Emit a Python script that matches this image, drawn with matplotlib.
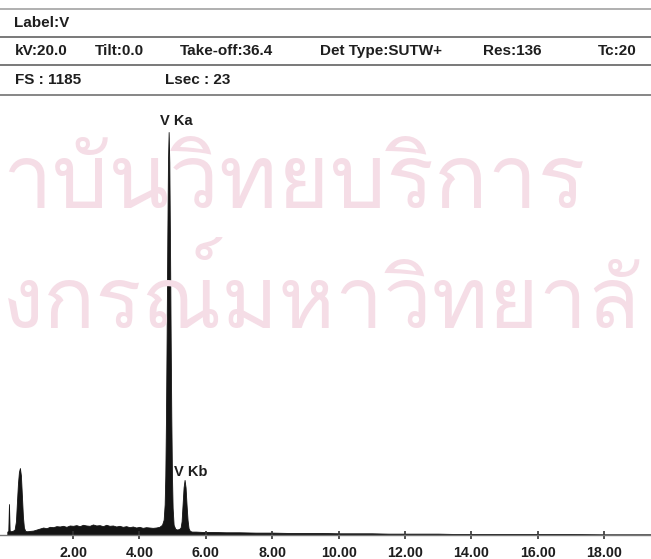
import numpy as np
import matplotlib.pyplot as plt
from matplotlib import font_manager

# --------------------------------------------------
# Data (energy in keV, counts)
# --------------------------------------------------

energy = [
    0.02, 0.05, 0.07, 0.09, 0.12, 0.18, 0.24, 0.28, 0.31, 0.34, 0.37, 0.40,
    0.43, 0.46, 0.49, 0.52, 0.56, 0.62, 0.70, 0.80, 0.90, 1.00, 1.10, 1.20,
    1.30, 1.40, 1.50, 1.60, 1.70, 1.80, 1.90, 2.00, 2.10, 2.20, 2.30, 2.40,
    2.50, 2.60, 2.70, 2.80, 2.90, 3.00, 3.10, 3.20, 3.30, 3.40, 3.50, 3.60,
    3.70, 3.80, 3.90, 4.00, 4.10, 4.20, 4.30, 4.40, 4.50, 4.60, 4.68, 4.73,
    4.76, 4.78, 4.80, 4.82, 4.84, 4.86, 4.88, 4.90, 4.92, 4.94, 4.96, 4.98,
    5.00, 5.03, 5.08, 5.14, 5.20, 5.24, 5.27, 5.30, 5.33, 5.36, 5.39, 5.42,
    5.45, 5.48, 5.52, 5.58, 5.70, 5.90, 6.20, 6.60, 7.00, 7.50, 8.00, 8.50,
    9.00, 9.50, 10.0, 10.5, 11.0, 11.5, 12.0, 12.5, 13.0, 13.5, 14.0, 15.0,
    16.0, 17.0, 18.0, 19.0, 19.4,
]
counts = [
    10, 12, 91, 14, 11, 12, 16, 40, 96, 150, 185, 197,
    175, 115, 55, 22, 12, 11, 12, 13, 16, 19, 22, 20,
    24, 23, 26, 25, 27, 24, 28, 27, 29, 26, 30, 28,
    27, 31, 28, 29, 26, 30, 27, 28, 25, 27, 24, 26,
    23, 25, 22, 24, 21, 23, 22, 21, 22, 24, 30, 45,
    90, 175, 346, 592, 870, 1097, 1185, 1097, 870, 592, 346, 175,
    80, 30, 18, 16, 18, 22, 40, 90, 140, 162, 140, 88,
    44, 20, 12, 10, 10, 9, 9, 8, 8, 7, 7, 6,
    6, 6, 5, 5, 5, 4, 4, 4, 4, 3, 3, 3,
    3, 3, 2, 2, 2,
]

tick_values = [2, 4, 6, 8, 10, 12, 14, 16, 18]
tick_labels = [f"{v:.2f}" for v in tick_values]

header_row1 = ["Label:V"]
header_row2 = ["kV:20.0", "Tilt:0.0", "Take-off:36.4", "Det Type:SUTW+", "Res:136", "Tc:20"]
header_row3 = ["FS : 1185", "Lsec : 23"]

peak_labels = ["V Ka", "V Kb"]
peak_label_pos = [(5.10, 1217), (5.55, 185)]

watermark_lines = ["าบันวิทยบริการ", "งกรณ์มหาวิทยาลั"]

# --------------------------------------------------
# Figure
# --------------------------------------------------

W, H = 651, 559
fig = plt.figure(figsize=(W / 100, H / 100), dpi=100)
fig.patch.set_facecolor("white")

# thai watermark, only if a thai font is around
thai_font = None
for f in font_manager.fontManager.ttflist:
    if "Thai" in f.name or "Loma" in f.name or "Garuda" in f.name:
        thai_font = f.name
        break
if thai_font:
    fig.text(0.003, 1 - 185 / H, watermark_lines[0], fontsize=64,
             family=thai_font, color="#f5dde6", va="center", ha="left", zorder=0)
    fig.text(0.003, 1 - 300 / H, watermark_lines[1], fontsize=62,
             family=thai_font, color="#f5dde6", va="center", ha="left", zorder=0)

# header lines
for y, c in [(9, "#9a9a9a"), (37, "#555555"), (65, "#555555"), (95, "#666666")]:
    fig.add_artist(plt.Line2D([0, 1], [1 - y / H] * 2, color=c, lw=1.1,
                              transform=fig.transFigure))

hfont = dict(family="Liberation Sans", fontsize=11, fontweight="bold",
             color="#1e1e1e", va="center", ha="left")
fig.text(14 / W, 1 - 23 / H, header_row1[0], **hfont)
for x, s in zip([15, 95, 180, 320, 483, 598], header_row2):
    fig.text(x / W, 1 - 51 / H, s, **hfont)
for x, s in zip([15, 165], header_row3):
    fig.text(x / W, 1 - 80 / H, s, **hfont)

# --------------------------------------------------
# Spectrum
# --------------------------------------------------

base_y = 535
top_y = 115
ax = fig.add_axes([0, 1 - base_y / H, 1, (base_y - top_y) / H])
ax.set_facecolor("none")
ax.fill_between(energy, counts, 0, color="#141414", lw=0.6, edgecolor="#141414")

ax.set_xlim(-0.2, 19.41)
ax.set_ylim(0, 1185 * (base_y - top_y) / 403)

for (x, y), s in zip(peak_label_pos, peak_labels):
    ax.text(x, y, s, family="Liberation Sans", fontsize=10.5, fontweight="bold",
            color="#1e1e1e", ha="center", va="center")

for side in ["top", "left", "right"]:
    ax.spines[side].set_visible(False)
ax.spines["bottom"].set_color("#777777")
ax.spines["bottom"].set_linewidth(1.0)
ax.spines["bottom"].set_linestyle((0, (3, 1)))

ax.set_yticks([])
ax.set_xticks(tick_values)
ax.set_xticklabels(tick_labels, family="Liberation Sans", fontsize=10.3,
                   fontweight="bold", color="#1e1e1e")
ax.tick_params(axis="x", direction="inout", length=6, width=1.2,
               color="#333333", pad=5)

fig.savefig("out.png", dpi=100)
